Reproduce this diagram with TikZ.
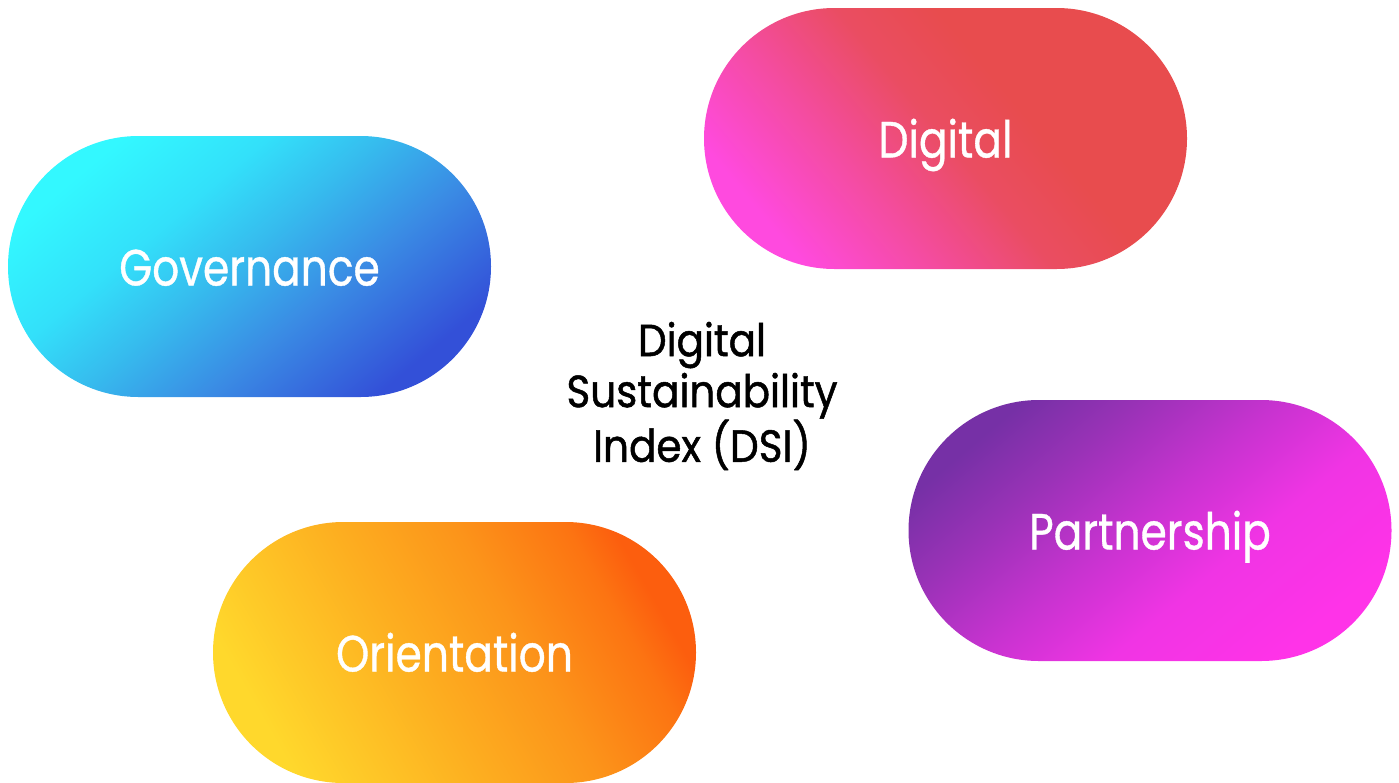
\documentclass[tikz,border=0pt]{standalone}
\usepackage{fontspec}
\setmainfont{Poppins}
\newfontfamily\pillfont{Poppins}[FakeStretch=0.83,FakeBold=0.7]
\newfontfamily\centrefont{Poppins}[FakeStretch=0.9,FakeBold=1.1]
\usetikzlibrary{shapes.misc}
\definecolor{govA}{HTML}{33F8FF}
\definecolor{govB}{HTML}{33E0FA}
\definecolor{govC}{HTML}{36BCEE}
\definecolor{govD}{HTML}{3A8BE4}
\definecolor{govE}{HTML}{3350D8}
\definecolor{digA}{HTML}{E84C4E}
\definecolor{digC}{HTML}{EA4D62}
\definecolor{digD}{HTML}{F44CA0}
\definecolor{digE}{HTML}{FF4ADF}
\definecolor{parA}{HTML}{7630A6}
\definecolor{parB}{HTML}{9832B6}
\definecolor{parC}{HTML}{C833D0}
\definecolor{parD}{HTML}{F034E4}
\definecolor{parE}{HTML}{FF33E8}
\definecolor{oriA}{HTML}{FC5E0E}
\definecolor{oriB}{HTML}{FC7412}
\definecolor{oriC}{HTML}{FC941A}
\definecolor{oriD}{HTML}{FDAE20}
\definecolor{oriE}{HTML}{FFD82C}
\pgfdeclareverticalshading{govsh}{100bp}{color(0bp)=(govE); color(25bp)=(govE); color(40bp)=(govD); color(52bp)=(govC); color(62bp)=(govB); color(75bp)=(govA); color(100bp)=(govA)}
\pgfdeclareverticalshading{digsh}{100bp}{color(0bp)=(digE); color(25bp)=(digE); color(38bp)=(digD); color(50bp)=(digC); color(60bp)=(digA); color(100bp)=(digA)}
\pgfdeclareverticalshading{parsh}{100bp}{color(0bp)=(parE); color(25bp)=(parE); color(40bp)=(parD); color(52bp)=(parC); color(65bp)=(parB); color(75bp)=(parA); color(100bp)=(parA)}
\pgfdeclareverticalshading{orish}{100bp}{color(0bp)=(oriE); color(25bp)=(oriE); color(45bp)=(oriD); color(58bp)=(oriC); color(70bp)=(oriB); color(75bp)=(oriA); color(100bp)=(oriA)}
\tikzset{
  pill/.style={rounded rectangle, minimum width=483pt, minimum height=261pt,
    inner sep=0pt, text=white, text height=38pt, text depth=0pt,
    font=\pillfont\fontsize{51}{51}\selectfont},
  centre/.style={align=center, text=black, font=\centrefont\fontsize{45}{51}\selectfont}
}
\begin{document}
\begin{tikzpicture}[x=1pt,y=-1pt]
\useasboundingbox (0,0) rectangle (1399,782);
\node[pill, shading=govsh, shading angle=40] (gov) at (249.5,266.5) {Governance};
\node[pill, shading=digsh, shading angle=-50] (dig) at (945.5,138.5) {Digital};
\node[pill, shading=parsh, shading angle=40] (par) at (1150,530.5) {Partnership};
\node[pill, shading=orish, shading angle=-60] (ori) at (454.5,652.5) {Orientation};
\node[centre] (dsi) at (702,396) {Digital\\Sustainability\\Index (DSI)};
\end{tikzpicture}
\end{document}
